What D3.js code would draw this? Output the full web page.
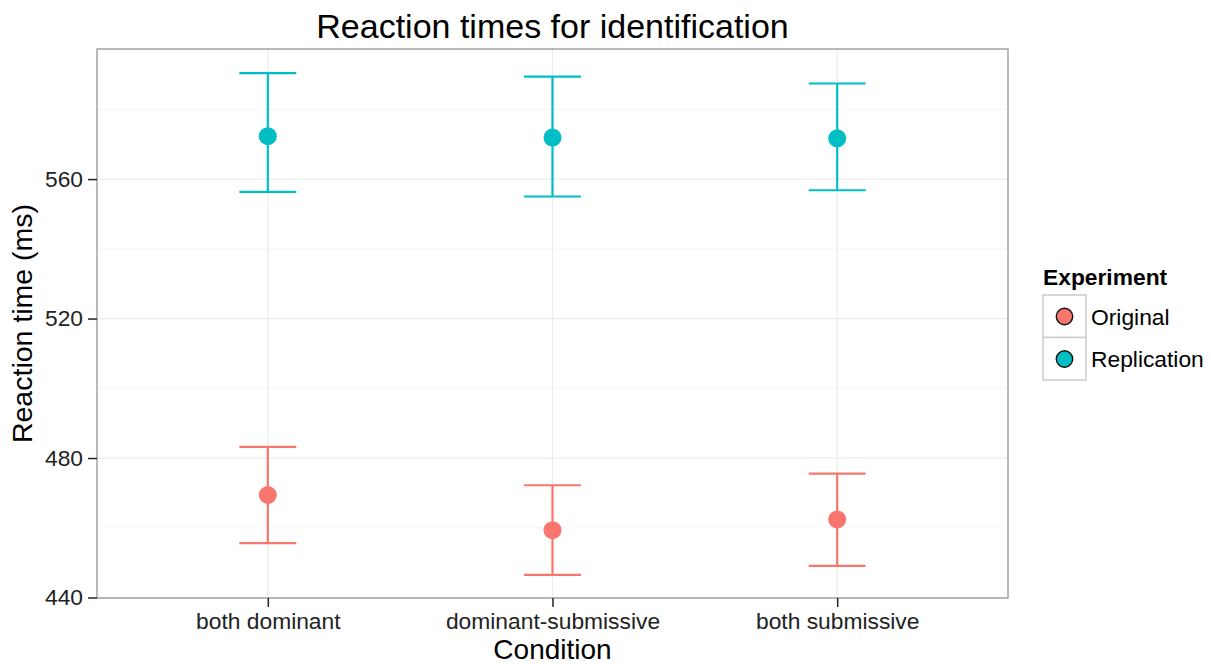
<!DOCTYPE html>
<html>
<head>
<meta charset="utf-8">
<script src="https://cdn.jsdelivr.net/npm/d3@7"></script>
<style>
  body { margin: 0; background: #fff; }
  svg { display: block; font-family: "Liberation Sans", Arial, sans-serif; }
</style>
</head>
<body>
<svg id="chart" width="1211" height="664"></svg>
<script>
// data
var conditions = ["both dominant", "dominant-submissive", "both submissive"];
var experiments = ["Original", "Replication"];
var originalMean  = [469.4, 459.3, 462.4];
var originalLower = [455.6, 446.5, 449.1];
var originalUpper = [483.2, 472.2, 475.5];
var replicationMean  = [572.3, 571.9, 571.7];
var replicationLower = [556.3, 555.0, 556.8];
var replicationUpper = [590.4, 589.4, 587.4];
var yTicks = [440, 480, 520, 560];
var yMinorTicks = [460, 500, 540, 580];

var colors = ["#F8766D", "#00BFC4"];

// panel box
var panelL = 97, panelR = 1008, panelT = 49, panelB = 598;

var svg = d3.select("#chart");

var x = d3.scalePoint()
    .domain(conditions)
    .range([panelL, panelR])
    .padding(0.6);

var y = d3.scaleLinear()
    .domain([439.86, 597.3])
    .range([panelB, panelT]);

var color = d3.scaleOrdinal()
    .domain(experiments)
    .range(colors);

// build rows for the marks
var rows = [];
conditions.forEach(function(c, i) {
  rows.push({cond: c, exp: "Original", mean: originalMean[i], lo: originalLower[i], hi: originalUpper[i]});
  rows.push({cond: c, exp: "Replication", mean: replicationMean[i], lo: replicationLower[i], hi: replicationUpper[i]});
});

// minor grid
svg.append("g").selectAll("line")
  .data(yMinorTicks)
  .enter().append("line")
    .attr("x1", panelL).attr("x2", panelR)
    .attr("y1", function(d) { return y(d); })
    .attr("y2", function(d) { return y(d); })
    .style("stroke", "#f7f7f7")
    .style("stroke-width", 1.2);

// major grid
svg.append("g").selectAll("line")
  .data(yTicks)
  .enter().append("line")
    .attr("x1", panelL).attr("x2", panelR)
    .attr("y1", function(d) { return y(d); })
    .attr("y2", function(d) { return y(d); })
    .style("stroke", "#ebebeb")
    .style("stroke-width", 1.2);

svg.append("g").selectAll("line")
  .data(conditions)
  .enter().append("line")
    .attr("x1", function(d) { return x(d); })
    .attr("x2", function(d) { return x(d); })
    .attr("y1", panelT).attr("y2", panelB)
    .style("stroke", "#ebebeb")
    .style("stroke-width", 1.2);

// error bars
var capHalf = x.step() * 0.1;
var bars = svg.append("g").selectAll("g")
  .data(rows)
  .enter().append("g")
    .style("stroke", function(d) { return color(d.exp); })
    .style("stroke-width", 2.2);
bars.append("line")
    .attr("x1", function(d) { return x(d.cond); })
    .attr("x2", function(d) { return x(d.cond); })
    .attr("y1", function(d) { return y(d.lo); })
    .attr("y2", function(d) { return y(d.hi); });
bars.append("line")
    .attr("x1", function(d) { return x(d.cond) - capHalf; })
    .attr("x2", function(d) { return x(d.cond) + capHalf; })
    .attr("y1", function(d) { return y(d.hi); })
    .attr("y2", function(d) { return y(d.hi); });
bars.append("line")
    .attr("x1", function(d) { return x(d.cond) - capHalf; })
    .attr("x2", function(d) { return x(d.cond) + capHalf; })
    .attr("y1", function(d) { return y(d.lo); })
    .attr("y2", function(d) { return y(d.lo); });

// points
svg.append("g").selectAll("circle")
  .data(rows)
  .enter().append("circle")
    .attr("cx", function(d) { return x(d.cond); })
    .attr("cy", function(d) { return y(d.mean); })
    .attr("r", 9)
    .style("fill", function(d) { return color(d.exp); });

// panel border
svg.append("rect")
    .attr("x", panelL).attr("y", panelT)
    .attr("width", panelR - panelL).attr("height", panelB - panelT)
    .style("fill", "none")
    .style("stroke", "#8c8c8c")
    .style("stroke-width", 1.2);

// axes
var yAxis = svg.append("g")
    .attr("transform", "translate(" + panelL + ",0)")
    .call(d3.axisLeft(y).tickValues(yTicks).tickSize(9).tickPadding(5));
var xAxis = svg.append("g")
    .attr("transform", "translate(0," + panelB + ")")
    .call(d3.axisBottom(x).tickSize(9).tickPadding(6));
[yAxis, xAxis].forEach(function(a) {
  a.select(".domain").remove();
  a.selectAll("line").style("stroke", "#222").style("stroke-width", 1.5);
  a.selectAll("text")
    .style("font-size", "22.8px")
    .style("fill", "#222")
    .style("font-family", "Liberation Sans, Arial, sans-serif");
});

// titles
svg.append("text")
    .attr("x", (panelL + panelR) / 2).attr("y", 38)
    .attr("text-anchor", "middle")
    .style("font-size", "34px")
    .text("Reaction times for identification");

svg.append("text")
    .attr("x", (panelL + panelR) / 2).attr("y", 659)
    .attr("text-anchor", "middle")
    .style("font-size", "28px")
    .text("Condition");

svg.append("text")
    .attr("transform", "translate(32," + ((panelT + panelB) / 2) + ") rotate(-90)")
    .attr("text-anchor", "middle")
    .style("font-size", "28.5px")
    .text("Reaction time (ms)");

// legend
var legend = svg.append("g")
    .attr("transform", "translate(1043,285)");
legend.append("text")
    .attr("x", 0).attr("y", 0)
    .style("font-size", "22.8px")
    .style("font-weight", "bold")
    .text("Experiment");
var keys = legend.selectAll("g.key")
  .data(experiments)
  .enter().append("g")
    .attr("class", "key")
    .attr("transform", function(d, i) { return "translate(0," + (10 + i * 42.5) + ")"; });
keys.append("rect")
    .attr("width", 43).attr("height", 42.5)
    .style("fill", "#fff")
    .style("stroke", "#cccccc")
    .style("stroke-width", 1.5);
keys.append("circle")
    .attr("cx", 21.5).attr("cy", 21.5)
    .attr("r", 8.2)
    .style("fill", function(d) { return color(d); })
    .style("stroke", "#111")
    .style("stroke-width", 1.4);
keys.append("text")
    .attr("x", 48).attr("y", 29.5)
    .style("font-size", "22.8px")
    .text(function(d) { return d; });
</script>
</body>
</html>
